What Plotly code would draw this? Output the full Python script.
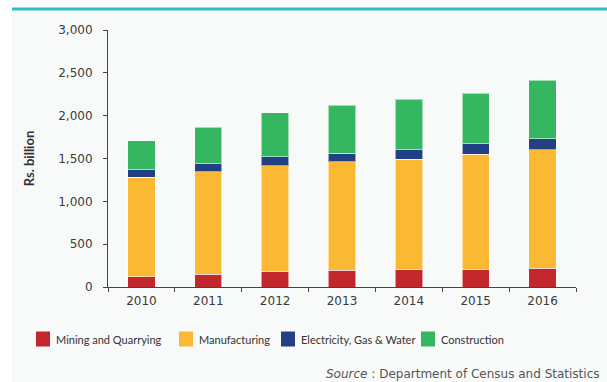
import plotly.graph_objects as go

# Value added by industry sub-sector, Rs. billion
years = ["2010", "2011", "2012", "2013", "2014", "2015", "2016"]
mining = [120, 148, 179, 198, 202, 202, 218]
manufacturing = [1160, 1198, 1237, 1265, 1292, 1350, 1385]
electricity = [89, 93, 105, 101, 109, 121, 128]
construction = [338, 428, 513, 556, 591, 587, 685]

series_names = ["Mining and Quarrying", "Manufacturing", "Electricity, Gas & Water", "Construction"]
series_colors = ["#c1272d", "#fbb833", "#233f85", "#35b661"]
series_values = [mining, manufacturing, electricity, construction]

y_ticks = [0, 500, 1000, 1500, 2000, 2500, 3000]

TICK_FONT = "'DejaVu Sans', sans-serif"
LABEL_FONT = "Lato, 'DejaVu Sans', sans-serif"
W, H = 607, 382
ML, MR, MT, MB = 108, 31, 30, 95
PW, PH = W - ML - MR, H - MT - MB


def px_x(p):
    return (p - ML) / PW


def px_y(p):
    return (H - MB - p) / PH


fig = go.Figure()
for name, color, vals in zip(series_names, series_colors, series_values):
    fig.add_trace(go.Bar(
        x=years, y=vals, name=name, showlegend=False,
        marker=dict(color=color, line=dict(color="rgba(255,255,255,0.55)", width=1)),
    ))

# Legend row drawn beneath the axis: colour key + label per series
legend_left_px = [36, 179, 281, 421]
legend_mid_px = 339
shapes = [
    dict(type="rect", xref="paper", yref="paper", layer="below",
         x0=px_x(12), x1=px_x(W + 2), y0=px_y(H + 2), y1=px_y(10),
         fillcolor="#f8faf9", line=dict(width=0)),
    dict(type="line", xref="paper", yref="paper",
         x0=px_x(12), x1=px_x(W + 2), y0=px_y(9), y1=px_y(9),
         line=dict(color="#2cbfc9", width=3)),
]
annotations = []
for name, color, left in zip(series_names, series_colors, legend_left_px):
    shapes.append(dict(
        type="rect", xref="paper", yref="paper",
        x0=px_x(left), x1=px_x(left + 14),
        y0=px_y(legend_mid_px + 7.5), y1=px_y(legend_mid_px - 7.5),
        fillcolor=color, line=dict(width=0),
    ))
    annotations.append(dict(
        xref="paper", yref="paper", x=px_x(left + 18), y=px_y(legend_mid_px),
        xanchor="left", yanchor="middle", showarrow=False, text=name,
        font=dict(family=LABEL_FONT, size=11, color="#333"),
    ))

annotations.append(dict(
    xref="paper", yref="paper", x=px_x(602), y=px_y(374),
    xanchor="right", yanchor="middle", showarrow=False,
    text="<i>Source</i> : Department of Census and Statistics",
    font=dict(family=TICK_FONT, size=12, color="#555"),
))

fig.update_layout(
    width=W, height=H,
    margin=dict(l=ML, r=MR, t=MT, b=MB),
    barmode="stack", bargap=0.59,
    paper_bgcolor="white", plot_bgcolor="rgba(0,0,0,0)",
    font=dict(family=TICK_FONT, size=12, color="#444"),
    showlegend=False,
    xaxis=dict(
        showline=True, linecolor="#444", linewidth=1,
        ticks="outside", ticklen=4, tickcolor="#444", tickson="boundaries",
        tickfont=dict(family=TICK_FONT, size=12, color="#3a3a3a"), showgrid=False,
        ticklabelstandoff=3,
    ),
    yaxis=dict(
        range=[0, 3000], tickvals=y_ticks, tickformat=",",
        showline=True, linecolor="#444", linewidth=1,
        ticks="outside", ticklen=4, tickcolor="#444",
        tickfont=dict(family=TICK_FONT, size=12, color="#3a3a3a"),
        showgrid=False, zeroline=False, ticklabelstandoff=8,
        title=dict(text="<b>Rs. billion</b>",
                   font=dict(family=LABEL_FONT, size=13, color="#333"), standoff=20),
    ),
    shapes=shapes,
    annotations=annotations,
)

fig.write_html("out.html")
